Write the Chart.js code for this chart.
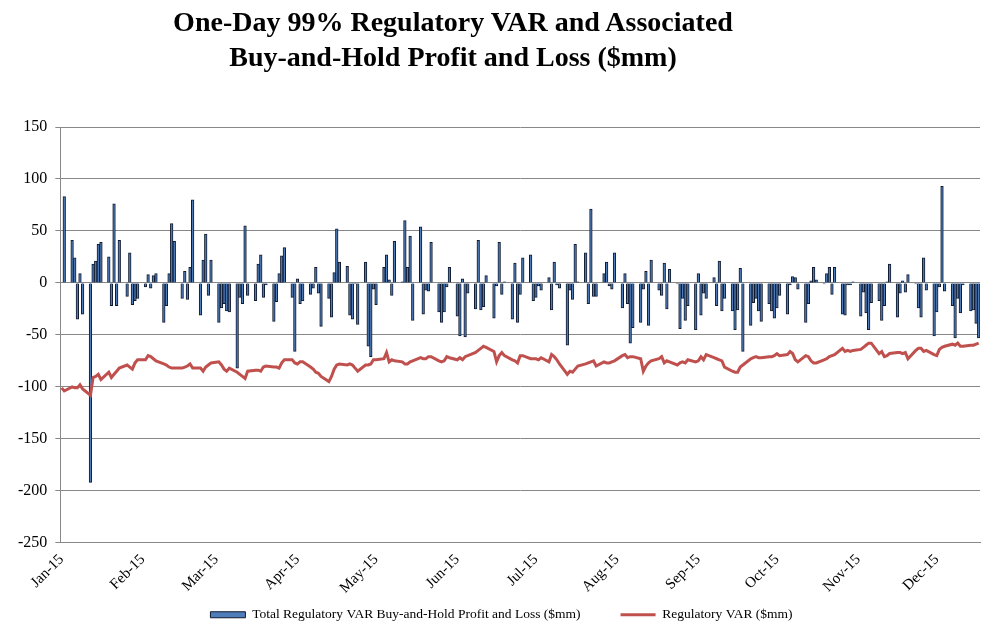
<!DOCTYPE html>
<html>
<head>
<meta charset="utf-8">
<script src="https://cdn.jsdelivr.net/npm/chart.js@4.4.1/dist/chart.umd.min.js"></script>
<style>
  body { margin: 0; background: #fff; }
  #wrap { position: relative; width: 993px; height: 629px; }
  #title {
    position: absolute; left: 0; top: 4px; width: 906px;
    text-align: center; font: bold 28px "Liberation Serif", serif; line-height: 35px; color: #000;
  }
</style>
</head>
<body>
<div id="wrap">
  <canvas id="varChart"></canvas>
  <div id="title">One-Day 99% Regulatory VAR and Associated<br>Buy-and-Hold Profit and Loss ($mm)</div>
</div>
<script>
// month tick labels and the day (counted from Jan 1, 2015) they sit on
const monthLabels = ['Jan-15', 'Feb-15', 'Mar-15', 'Apr-15', 'May-15', 'Jun-15',
                     'Jul-15', 'Aug-15', 'Sep-15', 'Oct-15', 'Nov-15', 'Dec-15'];
const monthStarts = [0, 31, 59, 90, 120, 151, 181, 212, 243, 273, 304, 334];
const lastDay = 350; // Dec 17

// trading days (weekdays) Jan 1 .. Dec 17
const days = [];
for (let d = 0; d <= lastDay; d++) {
  const dow = (d + 4) % 7; // Jan 1 2015 was a Thursday
  if (dow !== 6 && dow !== 0) days.push(d);
}

// Total Regulatory VAR Buy-and-Hold Profit and Loss ($mm), one row per week
const pnl = [
  0, 83,
  41, 24, -35, 9, -30,
  -192, 18, 21, 37, 39,
  25, -22, 76, -22, 41,
  -13, 29, -21, -17, -15,
  -4, 8, -5, 7, 9,
  -38, -22, 9, 57, 40,
  -15, 11, -16, 15, 80,
  -31, 22, 47, -12, 22,
  -38, -24, -20, -27, -28,
  -82, -14, -20, 55, -12,
  -17, 18, 27, -14, -2,
  -37, -18, 9, 26, 34,
  -14, -66, 4, -20, -17,
  -11, -5, 15, -10, -42,
  -15, -33, 10, 52, 20,
  16, -31, -35, -1, -40,
  20, -61, -71, -6, -21,
  15, 27, 3, -12, 40,
  1, 60, 15, 45, -36,
  54, -30, -7, -8, 39,
  -28, -38, -28, -4, 15,
  -32, -51, 4, -52, -10,
  -25, 41, -26, -23, 7,
  -34, -3, 39, -11, 1,
  -35, 19, -38, -11, 24,
  27, -17, -14, -3, -7,
  5, -26, 20, -2, -5,
  -60, -7, -16, 37, 1,
  29, -20, 71, -13, -13,
  9, 20, -3, -6, 29,
  -24, 9, -20, -58, -43,
  -38, -6, 11, -41, 22,
  -7, -12, 19, -25, 13,
  -1, -44, -15, -36, -22,
  -45, 9, -31, -10, -15,
  5, -22, 21, -27, -15,
  -27, -45, -26, 14, -66,
  -41, -19, -15, -27, -37,
  -20, -27, -34, -24, -12,
  -30, -2, 6, 5, -6,
  -38, -20, 2, 15, 3,
  -1, 9, 15, -11, 15,
  -30, -31, -2, -2, 1,
  -32, -9, -29, -45, -19,
  -17, -36, -22, 1, 18,
  -33, -10, 2, -9, 8,
  -1, -24, -33, 24, -7,
  -51, -28, -4, 93, -8,
  -22, -53, -15, -29, -2,
  -27, -26, -39, -53
];

// Regulatory VAR ($mm), one row per week
const regVar = [
  -101, -104,
  -100, -101, -101, -98, -102,
  -108, -91, -90, -88, -93,
  -86, -91, -88, -85, -82,
  -79, -81, -83, -77, -74,
  -74, -70, -71, -73, -75,
  -78, -79, -81, -82, -82,
  -82, -81, -80, -78, -82,
  -82, -85, -81, -79, -77,
  -76, -79, -83, -85, -82,
  -86, -88, -90, -92, -85,
  -84, -84, -85, -81, -80,
  -81, -81, -82, -77, -74,
  -74, -77, -78, -76, -76,
  -81, -83, -86, -87, -90,
  -95, -90, -83, -79, -78,
  -79, -78, -79, -82, -85,
  -79, -79, -78, -74, -74,
  -73, -67, -76, -74, -75,
  -76, -78, -78, -76, -75,
  -72, -73, -73, -71, -71,
  -75, -76, -75, -71, -72,
  -74, -72, -74, -71, -70,
  -67, -65, -63, -61, -62,
  -66, -76, -70, -67, -70,
  -74, -75, -77, -70, -70,
  -73, -73, -73, -74, -72,
  -76, -69, -71, -74, -78,
  -88, -85, -86, -83, -80,
  -78, -77, -76, -75, -80,
  -76, -77, -77, -76, -75,
  -70, -69, -72, -71, -71,
  -73, -85, -80, -77, -75,
  -73, -71, -77, -75, -76,
  -79, -77, -76, -77, -74,
  -76, -75, -71, -74, -69,
  -72, -73, -74, -75, -81,
  -85, -86, -86, -81, -79,
  -73, -72, -71, -72, -72,
  -71, -71, -70, -68, -70,
  -69, -66, -68, -74, -76,
  -70, -71, -75, -77, -77,
  -74, -73, -71, -70, -69,
  -63, -66, -65, -66, -65,
  -64, -62, -60, -58, -58,
  -68, -66, -71, -70, -68,
  -67, -67, -68, -67, -73,
  -65, -63, -63, -66, -65,
  -69, -70, -64, -62, -61,
  -59, -60, -58, -61, -61,
  -60, -60, -59, -58
];

const serif = '"Liberation Serif", "Times New Roman", serif';

// the legend keeps a wide gap between its two items but sits in a short box,
// so raise the top of its box after layout to draw it higher
const legendLift = {
  id: 'legendLift',
  afterLayout(chart) {
    chart.legend.top -= 37;
    chart.legend.left += 13;
  }
};

const ctx = document.getElementById('varChart').getContext('2d');
const varChart = new Chart(ctx, {
  type: 'bar',
  data: {
    datasets: [{
      type: 'bar',
      label: 'Total Regulatory VAR Buy-and-Hold Profit and Loss ($mm)',
      data: days.map((d, i) => ({ x: d, y: pnl[i] })),
      backgroundColor: '#4F7DBA',
      borderColor: '#101a2e',
      borderWidth: 1,
      barPercentage: 1,
      categoryPercentage: 1,
      pointStyle: 'rect',
      order: 2
    }, {
      type: 'line',
      label: 'Regulatory VAR ($mm)',
      data: days.map((d, i) => ({ x: d, y: regVar[i] })),
      borderColor: '#C0504D',
      backgroundColor: '#C0504D',
      borderWidth: 3,
      pointRadius: 0,
      tension: 0,
      pointStyle: 'line',
      order: 1
    }]
  },
  options: {
    responsive: true,
    maintainAspectRatio: false,
    animation: false,
    layout: { padding: { top: 127, left: 10, right: 13, bottom: 0 } },
    plugins: {
      title: { display: false },
      tooltip: { enabled: false },
      legend: {
        position: 'bottom',
        maxHeight: 24,
        labels: {
          usePointStyle: true,
          pointStyleWidth: 35,
          boxHeight: 6,
          padding: 40,
          color: '#000',
          font: { family: serif, size: 13.5 },
          sort: (a, b) => a.datasetIndex - b.datasetIndex
        }
      }
    },
    scales: {
      x: {
        type: 'linear',
        min: -0.5,
        max: lastDay + 0.5,
        offset: false,
        grid: { display: false, drawTicks: false },
        border: { color: '#888' },
        afterBuildTicks: (scale) => {
          scale.ticks = monthStarts.map(v => ({ value: v }));
        },
        ticks: {
          autoSkip: false,
          minRotation: 45,
          maxRotation: 45,
          padding: 8,
          color: '#000',
          font: { family: serif, size: 15 },
          callback: (v) => monthLabels[monthStarts.indexOf(v)]
        }
      },
      y: {
        min: -250,
        max: 150,
        ticks: {
          stepSize: 50,
          padding: 8,
          color: '#000',
          font: { family: serif, size: 16 }
        },
        grid: { color: '#888', tickLength: 5 },
        border: { color: '#888' }
      }
    }
  },
  plugins: [legendLift]
});
</script>
</body>
</html>
